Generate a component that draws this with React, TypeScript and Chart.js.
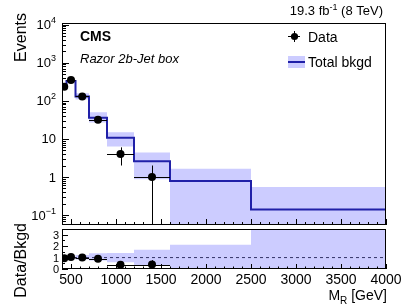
import React, { useEffect, useRef } from "react";
import { Chart, registerables } from "chart.js";
Chart.register(...registerables);

// ---- data ----
const binEdges = [400, 450, 550, 700, 900, 1200, 1600, 2500, 4000];
const bkgd = [250, 330, 130, 36, 10.7, 2.6, 0.78, 0.14];
const bkgdLo = [228, 305, 108, 27, 6.3, 0.87, 0.001, 0.001];
const bkgdHi = [272, 355, 158, 50, 15, 4.4, 1.65, 0.55];
const dataX = [425, 500, 625, 800, 1050, 1400];
const dataY = [235, 350, 130, 32, 4, 1];
const dataErr = [15, 19, 11, 5.7, 2, 1];
const xTickValues = [500, 1000, 1500, 2000, 2500, 3000, 3500, 4000];
const yMainExponents = [-1, 0, 1, 2, 3, 4];
const ratioTickValues = [0, 1, 2, 3];

const FONT = '"Liberation Sans", Arial, Helvetica, sans-serif';
const BAND = "#ccccff";
const LINE = "#2020a8";
const X_MIN = 400, X_MAX = 4000;
const Y_MIN = 0.055, Y_MAX = 11000;
const R_MIN = 0, R_MAX = 3.5;
const RATIO_TOP = 200; // canvas offset of the ratio panel canvas

type Seg = { t: string; size: number; dy?: number; weight?: string; style?: string };
function rich(ctx: CanvasRenderingContext2D, segs: Seg[], x: number, y: number, align: "left" | "right" | "center") {
  const fontOf = (s: Seg) => `${s.style || ""} ${s.weight || ""} ${s.size}px ${FONT}`;
  let total = 0;
  const ws = segs.map((s) => {
    ctx.font = fontOf(s);
    const w = ctx.measureText(s.t).width;
    total += w;
    return w;
  });
  let cx = align === "left" ? x : align === "right" ? x - total : x - total / 2;
  ctx.textAlign = "left";
  ctx.textBaseline = "alphabetic";
  segs.forEach((s, i) => {
    ctx.font = fontOf(s);
    ctx.fillText(s.t, cx, y + (s.dy || 0));
    cx += ws[i];
  });
}

function stepPts(vals: number[]) {
  return binEdges.map((e, i) => ({ x: e, y: vals[Math.min(i, vals.length - 1)] }));
}

function binOf(x: number) {
  for (let i = 0; i < binEdges.length - 1; i++) if (x >= binEdges[i] && x < binEdges[i + 1]) return i;
  return binEdges.length - 2;
}

function drawXTicks(chart: any, major: number, minor: number) {
  const ctx = chart.ctx as CanvasRenderingContext2D;
  const a = chart.chartArea;
  const xs = chart.scales.x;
  ctx.strokeStyle = "#000";
  ctx.lineWidth = 1;
  ctx.beginPath();
  for (let v = X_MIN; v <= X_MAX; v += 100) {
    const px = Math.round(xs.getPixelForValue(v)) + 0.5;
    const len = v % 500 === 0 ? major : minor;
    ctx.moveTo(px, a.bottom);
    ctx.lineTo(px, a.bottom - len);
  }
  ctx.stroke();
}

function drawFrame(chart: any) {
  const ctx = chart.ctx as CanvasRenderingContext2D;
  const a = chart.chartArea;
  ctx.strokeStyle = "#000";
  ctx.lineWidth = 1;
  ctx.strokeRect(a.left + 0.5, a.top + 0.5, a.right - a.left - 1, a.bottom - a.top - 1);
}

function drawErrorBars(chart: any, ratio: boolean) {
  const ctx = chart.ctx as CanvasRenderingContext2D;
  const a = chart.chartArea;
  const xs = chart.scales.x, ys = chart.scales.y;
  ctx.save();
  ctx.beginPath();
  ctx.rect(a.left, a.top, a.right - a.left, a.bottom - a.top);
  ctx.clip();
  ctx.strokeStyle = "#000";
  ctx.lineWidth = 1;
  dataX.forEach((x, i) => {
    const b = binOf(x);
    const den = ratio ? bkgd[b] : 1;
    const yv = dataY[i] / den;
    const lo = Math.max((dataY[i] - dataErr[i]) / den, ratio ? R_MIN - 1 : 1e-6);
    const hi = (dataY[i] + dataErr[i]) / den;
    const px = Math.round(xs.getPixelForValue(x)) + 0.5;
    const py = Math.round(ys.getPixelForValue(yv)) + 0.5;
    ctx.beginPath();
    ctx.moveTo(xs.getPixelForValue(binEdges[b]), py);
    ctx.lineTo(xs.getPixelForValue(binEdges[b + 1]), py);
    ctx.moveTo(px, ys.getPixelForValue(lo));
    ctx.lineTo(px, ys.getPixelForValue(hi));
    ctx.stroke();
  });
  ctx.restore();
}

const mainPlugin = {
  id: "mainDeco",
  beforeDatasetDraw(chart: any, args: any) {
    if (args.index === 0) drawErrorBars(chart, false);
  },
  afterDraw(chart: any) {
    const ctx = chart.ctx as CanvasRenderingContext2D;
    const a = chart.chartArea;
    const ys = chart.scales.y;
    drawFrame(chart);
    drawXTicks(chart, 6, 3);
    // y ticks
    ctx.strokeStyle = "#000";
    ctx.lineWidth = 1;
    ctx.beginPath();
    for (let d = -2; d <= 4; d++) {
      for (let k = 1; k <= 9; k++) {
        const v = k * Math.pow(10, d);
        if (v < Y_MIN || v > Y_MAX) continue;
        const py = Math.round(ys.getPixelForValue(v)) + 0.5;
        ctx.moveTo(a.left, py);
        ctx.lineTo(a.left + (k === 1 ? 7 : 4), py);
      }
    }
    ctx.stroke();
    // y labels
    ctx.fillStyle = "#000";
    yMainExponents.forEach((e) => {
      const py = ys.getPixelForValue(Math.pow(10, e));
      let segs: Seg[];
      if (e === 0) segs = [{ t: "1", size: 13 }];
      else if (e === 1) segs = [{ t: "10", size: 13 }];
      else segs = [{ t: "10", size: 13 }, { t: e < 0 ? "\u2212" + -e : String(e), size: 9, dy: -6 }];
      rich(ctx, segs, 56, py + 4.6, "right");
    });
    // axis title
    ctx.save();
    ctx.translate(26, 13);
    ctx.rotate(-Math.PI / 2);
    rich(ctx, [{ t: "Events", size: 16 }], 0, 0, "right");
    ctx.restore();
    // header texts
    rich(ctx, [{ t: "19.3 fb", size: 13 }, { t: "-1", size: 9, dy: -5 }, { t: " (8 TeV)", size: 13 }], 383, 15, "right");
    rich(ctx, [{ t: "CMS", size: 14, weight: "bold" }], 80, 41, "left");
    rich(ctx, [{ t: "Razor 2b-Jet box", size: 13, style: "italic" }], 80, 63, "left");
    // legend
    ctx.strokeStyle = "#000";
    ctx.beginPath();
    ctx.moveTo(288, 36.5);
    ctx.lineTo(300, 36.5);
    ctx.moveTo(294.5, 31);
    ctx.lineTo(294.5, 42);
    ctx.stroke();
    ctx.beginPath();
    ctx.arc(294.5, 36.5, 3.6, 0, Math.PI * 2);
    ctx.fill();
    rich(ctx, [{ t: "Data", size: 14 }], 308, 41.5, "left");
    ctx.fillStyle = BAND;
    ctx.fillRect(288, 56, 17, 12);
    ctx.strokeStyle = LINE;
    ctx.lineWidth = 2;
    ctx.beginPath();
    ctx.moveTo(288, 62);
    ctx.lineTo(305, 62);
    ctx.stroke();
    ctx.fillStyle = "#000";
    rich(ctx, [{ t: "Total bkgd", size: 14 }], 308, 67, "left");
  },
};

const ratioPlugin = {
  id: "ratioDeco",
  beforeDatasetDraw(chart: any, args: any) {
    if (args.index === 0) drawErrorBars(chart, true);
  },
  afterDraw(chart: any) {
    const ctx = chart.ctx as CanvasRenderingContext2D;
    const a = chart.chartArea;
    const xs = chart.scales.x, ys = chart.scales.y;
    drawFrame(chart);
    drawXTicks(chart, 5, 2.5);
    ctx.strokeStyle = "#000";
    ctx.lineWidth = 1;
    ctx.beginPath();
    for (let v = 0; v <= R_MAX; v += 0.5) {
      const py = Math.round(ys.getPixelForValue(v)) + 0.5;
      ctx.moveTo(a.left, py);
      ctx.lineTo(a.left + (v % 1 === 0 ? 6 : 3), py);
    }
    ctx.stroke();
    ctx.fillStyle = "#000";
    ratioTickValues.forEach((v) => {
      rich(ctx, [{ t: String(v), size: 11 }], 59, ys.getPixelForValue(v) + 4, "right");
    });
    xTickValues.forEach((v) => {
      rich(ctx, [{ t: String(v), size: 14 }], xs.getPixelForValue(v), 284 - RATIO_TOP, "center");
    });
    rich(ctx, [{ t: "M", size: 14 }, { t: "R", size: 10, dy: 4 }, { t: " [GeV]", size: 14 }], 387, 300 - RATIO_TOP, "right");
    ctx.save();
    ctx.translate(26, 223 - RATIO_TOP);
    ctx.rotate(-Math.PI / 2);
    rich(ctx, [{ t: "Data/Bkgd", size: 16 }], 0, 0, "right");
    ctx.restore();
  },
};

function baseOptions(padding: any, yScale: any): any {
  return {
    responsive: false,
    animation: false,
    devicePixelRatio: 1,
    layout: { padding },
    plugins: { legend: { display: false }, tooltip: { enabled: false } },
    scales: {
      x: { type: "linear", min: X_MIN, max: X_MAX, display: false },
      y: { ...yScale, display: false },
    },
    elements: { point: { radius: 0 }, line: { tension: 0 } },
  };
}

export default function App() {
  const mainRef = useRef<HTMLCanvasElement>(null);
  const ratioRef = useRef<HTMLCanvasElement>(null);

  useEffect(() => {
    const ratioVals = bkgd.map((b, i) => ({ lo: bkgdLo[i] / b, hi: bkgdHi[i] / b }));
    const main = new Chart(mainRef.current!, {
      type: "line",
      data: {
        datasets: [
          {
            data: dataX.map((x, i) => ({ x, y: dataY[i] })),
            showLine: false,
            pointRadius: 4,
            pointBackgroundColor: "#000",
            pointBorderWidth: 0,
          },
          { data: stepPts(bkgd), stepped: "before", borderColor: LINE, borderWidth: 2, fill: false, pointRadius: 0 },
          { data: stepPts(bkgdHi), stepped: "before", borderWidth: 0, borderColor: "rgba(0,0,0,0)", backgroundColor: BAND, fill: "+1", pointRadius: 0 },
          { data: stepPts(bkgdLo), stepped: "before", borderWidth: 0, borderColor: "rgba(0,0,0,0)", fill: false, pointRadius: 0 },
        ],
      } as any,
      options: baseOptions({ left: 62, right: 21, top: 23, bottom: 1 }, { type: "logarithmic", min: Y_MIN, max: Y_MAX }),
      plugins: [mainPlugin],
    });
    const ratio = new Chart(ratioRef.current!, {
      type: "line",
      data: {
        datasets: [
          {
            data: dataX.map((x, i) => ({ x, y: dataY[i] / bkgd[binOf(x)] })),
            showLine: false,
            pointRadius: 4,
            pointBackgroundColor: "#000",
            pointBorderWidth: 0,
          },
          {
            data: [{ x: X_MIN, y: 1 }, { x: X_MAX, y: 1 }],
            borderColor: "#333366",
            borderWidth: 1,
            borderDash: [3, 3],
            fill: false,
            pointRadius: 0,
          },
          { data: stepPts(ratioVals.map((r) => r.hi)), stepped: "before", borderWidth: 0, borderColor: "rgba(0,0,0,0)", backgroundColor: BAND, fill: "+1", pointRadius: 0 },
          { data: stepPts(ratioVals.map((r) => Math.max(r.lo, -0.5))), stepped: "before", borderWidth: 0, borderColor: "rgba(0,0,0,0)", fill: false, pointRadius: 0 },
        ],
      } as any,
      options: baseOptions({ left: 62, right: 21, top: 229 - RATIO_TOP, bottom: 306 - 269 }, { type: "linear", min: R_MIN, max: R_MAX }),
      plugins: [ratioPlugin],
    });
    return () => {
      main.destroy();
      ratio.destroy();
    };
  }, []);

  return (
    <div style={{ position: "absolute", left: 0, top: 0, width: 407, height: 306, background: "#fff" }}>
      <canvas ref={mainRef} width={407} height={229} style={{ position: "absolute", left: 0, top: 0 }} />
      <canvas ref={ratioRef} width={407} height={306 - RATIO_TOP} style={{ position: "absolute", left: 0, top: RATIO_TOP }} />
    </div>
  );
}
